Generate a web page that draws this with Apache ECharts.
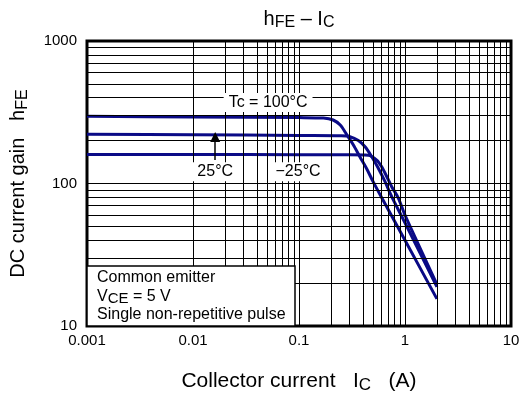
<!DOCTYPE html>
<html><head><meta charset="utf-8">
<script src="https://cdn.jsdelivr.net/npm/echarts@6/dist/echarts.min.js"></script>
<style>html,body{margin:0;padding:0;background:#fff}#c{width:525px;height:399px}</style>
</head><body><div id="c"></div>
<script>
// ---- data ----
const xTickValues = [0.001, 0.01, 0.1, 1, 10];
const xTickLabels = ['0.001', '0.01', '0.1', '1', '10'];
const yTickValues = [10, 100, 1000];
const yTickLabels = ['10', '100', '1000'];

const icT100  = [0.001, 0.01, 0.1, 0.17, 0.21, 0.245, 0.28, 0.325, 0.375, 0.435, 0.5, 0.6, 1, 2];
const hfeT100 = [296,   293,  290, 288,  279,  257,   222,  187,   154,   127,   103, 80,  40, 15.5];
const icT25   = [0.001, 0.01, 0.1, 0.25, 0.303, 0.363, 0.42, 0.486, 0.56, 0.648, 0.749, 1, 2];
const hfeT25  = [222,   220,  217, 216,  213,   200,   181,  154,   128,  103,   81,    53, 18.8];
const icTm25  = [0.001, 0.01, 0.1, 0.3, 0.45, 0.541, 0.603, 0.672, 0.749, 0.865, 1, 2];
const hfeTm25 = [160,   160,  159, 159, 158,  146,   131,   112,   95,    79,    60, 19.6];

const annotText = ['Tc = 100°C', '25°C', '−25°C'];
const annotX    = [0.0511, 0.0162, 0.098];
const annotY    = [370, 121, 121];
const arrowX = 0.0162, arrowFrom = 146, arrowTo = 212;

// ---- helpers ----
const FONT = "'Liberation Sans', Arial, sans-serif";
const pair = (xs, ys) => xs.map((x, i) => [x, ys[i]]);
const pick = (vals, labels, v) => {
  let bi = 0, bd = Infinity;
  vals.forEach((t, i) => { const d = Math.abs(Math.log10(t) - Math.log10(v)); if (d < bd) { bd = d; bi = i; } });
  return bd < 0.01 ? labels[bi] : '';
};
const xGrid = [], yGrid = [];
[0.001, 0.01, 0.1, 1].forEach(d => { for (let k = 1; k <= 9; k++) xGrid.push(+(d * k).toPrecision(6)); });
[10, 100].forEach(d => { for (let k = 1; k <= 9; k++) yGrid.push(+(d * k).toPrecision(6)); });

const curveColor = '#0a0a86';
const curve = (name, xs, ys) => ({
  name, type: 'line', data: pair(xs, ys), showSymbol: false, smooth: 0.3,
  lineStyle: { color: curveColor, width: 3 }, z: 3, silent: true
});

const chart = echarts.init(document.getElementById('c'), null, { renderer: 'canvas' });
chart.setOption({
  animation: false,
  backgroundColor: '#fff',
  textStyle: { fontFamily: FONT },
  grid: { left: 87, right: 14, top: 41, bottom: 73, show: true, borderColor: '#000', borderWidth: 3, backgroundColor: '#fff' },
  xAxis: {
    type: 'log', logBase: 10, min: 0.001, max: 10,
    axisLine: { show: false }, axisTick: { show: false }, splitLine: { show: false },
    axisLabel: { color: '#000', fontSize: 15, fontFamily: FONT, margin: 7,
      formatter: v => pick(xTickValues, xTickLabels, v) },
    name: '{n|Collector current   I}{s|C}{n|   (A)}',
    nameLocation: 'middle', nameGap: 42,
    nameTextStyle: { color: '#000', fontFamily: FONT,
      rich: { n: { fontSize: 21, lineHeight: 26, fontFamily: FONT, color: '#000' },
              s: { fontSize: 17, lineHeight: 17, verticalAlign: 'bottom', fontFamily: FONT, color: '#000' } } }
  },
  yAxis: {
    type: 'log', logBase: 10, min: 10, max: 1000,
    axisLine: { show: false }, axisTick: { show: false }, splitLine: { show: false },
    axisLabel: { color: '#000', fontSize: 15, fontFamily: FONT, margin: 10,
      formatter: v => pick(yTickValues, yTickLabels, v) },
    name: '{n|DC current gain   h}{s|FE}',
    nameLocation: 'middle', nameGap: 56, nameRotate: 90,
    nameTextStyle: { color: '#000', fontFamily: FONT,
      rich: { n: { fontSize: 20, lineHeight: 25, fontFamily: FONT, color: '#000' },
              s: { fontSize: 16, lineHeight: 16, verticalAlign: 'bottom', fontFamily: FONT, color: '#000' } } }
  },
  series: [
    { name: 'grid', type: 'line', data: [], z: 1, silent: true,
      markLine: { silent: true, symbol: ['none', 'none'], label: { show: false },
        lineStyle: { color: '#000', width: 1, type: 'solid' }, emphasis: { disabled: true },
        data: xGrid.map(v => ({ xAxis: v })).concat(yGrid.map(v => ({ yAxis: v }))) } },
    curve('Tc = 100°C', icT100, hfeT100),
    curve('25°C', icT25, hfeT25),
    curve('−25°C', icTm25, hfeTm25),
    { name: 'annot', type: 'line', data: [], z: 6, silent: true,
      markPoint: { silent: true, symbol: 'rect', symbolSize: 0,
        label: { show: true, position: 'inside', color: '#000', fontSize: 16, fontFamily: FONT,
          backgroundColor: '#fff', padding: [2, 5, 1, 5], formatter: p => p.name },
        data: annotText.map((t, i) => ({ name: t, coord: [annotX[i], annotY[i]] })) },
      markLine: { silent: true, symbol: ['none', 'triangle'], symbolSize: 10, label: { show: false },
        itemStyle: { color: '#000' },
        lineStyle: { color: '#000', width: 1.5, type: 'solid' }, emphasis: { disabled: true },
        data: [[{ coord: [arrowX, arrowFrom] }, { coord: [arrowX, arrowTo] }]] } }
  ],
  graphic: [
    { type: 'text', z: 100, x: 299, y: 19,
      style: { text: '{n|h}{s|FE}{n| – I}{s|C}', align: 'center', verticalAlign: 'middle',
        textAlign: 'center', textVerticalAlign: 'middle', fill: '#000',
        rich: { n: { fontSize: 20, lineHeight: 24, fontFamily: FONT, fill: '#000' },
                s: { fontSize: 16, lineHeight: 16, verticalAlign: 'bottom', fontFamily: FONT, fill: '#000' } } } },
    { type: 'rect', z: 100, shape: { x: 87, y: 266, width: 208, height: 60 },
      style: { fill: '#fff', stroke: '#000', lineWidth: 1.5 } },
    { type: 'text', z: 101, x: 97, y: 278,
      style: { text: 'Common emitter', font: '16px ' + FONT, fill: '#000', verticalAlign: 'middle', textVerticalAlign: 'middle' } },
    { type: 'text', z: 101, x: 97, y: 297,
      style: { text: '{n|V}{s|CE}{n| = 5 V}', verticalAlign: 'middle', textVerticalAlign: 'middle', fill: '#000',
        rich: { n: { fontSize: 16, lineHeight: 19, fontFamily: FONT, fill: '#000' },
                s: { fontSize: 15, lineHeight: 15, verticalAlign: 'bottom', fontFamily: FONT, fill: '#000' } } } },
    { type: 'text', z: 101, x: 97, y: 315,
      style: { text: 'Single non-repetitive pulse', font: '16px ' + FONT, fill: '#000', verticalAlign: 'middle', textVerticalAlign: 'middle' } }
  ]
});
</script>
</body></html>
